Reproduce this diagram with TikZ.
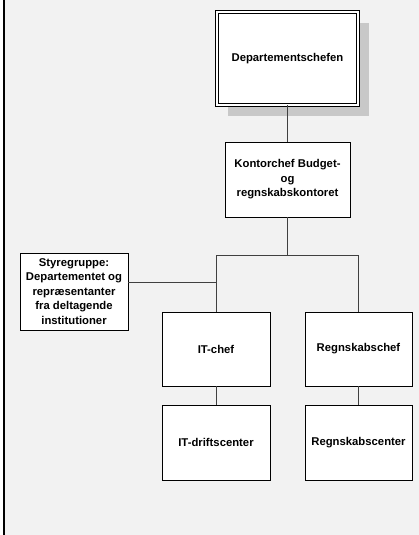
\documentclass[tikz,border=0pt]{standalone}
\usepackage{fontspec}
\setmainfont{Liberation Sans}
\usetikzlibrary{shadows}
\definecolor{bggray}{HTML}{F2F2F2}
\definecolor{shgray}{HTML}{C8C8C8}
\begin{document}
\begin{tikzpicture}[x=1pt,y=-1pt,
  orgbox/.style={draw=black, line width=0.8pt, fill=white, rectangle, align=center,
    font=\fontsize{11.3}{14.5}\selectfont\bfseries, inner sep=2pt},
  conn/.style={draw=black!75, line width=0.8pt}]
\useasboundingbox (0,0) rectangle (419,535);
\fill[white] (0,0) rectangle (419,535);
\fill[bggray] (5,0) rectangle (419,535);
\fill[black] (3,0) rectangle (5,535);

\node[orgbox, minimum width=141pt, minimum height=93pt, double=white, double distance=1.6pt,
  general shadow={fill=shgray, shadow xshift=11pt, shadow yshift=-11pt}]
  (top) at (287.5,58.5) {Departementschefen};
\node[orgbox, minimum width=125pt, minimum height=75pt] (kontor) at (287.5,179.5)
  {Kontorchef Budget-\\og\\regnskabskontoret};
\node[orgbox, minimum width=108pt, minimum height=77pt] (styre) at (74,291.5)
  {Styregruppe:\\Departementet og\\repræsentanter\\fra deltagende\\institutioner};
\node[orgbox, minimum width=108pt, minimum height=74pt] (itchef) at (216,349) {IT-chef};
\node[orgbox, minimum width=107pt, minimum height=74pt] (regnchef) at (358.5,349) {Regnskabschef};
\node[orgbox, minimum width=108pt, minimum height=75pt] (itdrift) at (216,442.5) {IT-driftscenter};
\node[orgbox, minimum width=107pt, minimum height=75pt] (regncenter) at (358.5,442.5) {Regnskabscenter};

\coordinate (bus) at (287.5,255);
\coordinate (styreout) at ([yshift=9.5pt]styre.east);
\draw[conn] (top.south) -- (kontor.north);
\draw[conn] (kontor.south) -- (bus);
\draw[conn] (itchef.north) -- (itchef.north |- bus) -- (regnchef.north |- bus) -- (regnchef.north);
\draw[conn] (styreout) -- (itchef.north |- styreout);
\draw[conn] (itchef.south) -- (itdrift.north);
\draw[conn] (regnchef.south) -- (regncenter.north);
\end{tikzpicture}
\end{document}
